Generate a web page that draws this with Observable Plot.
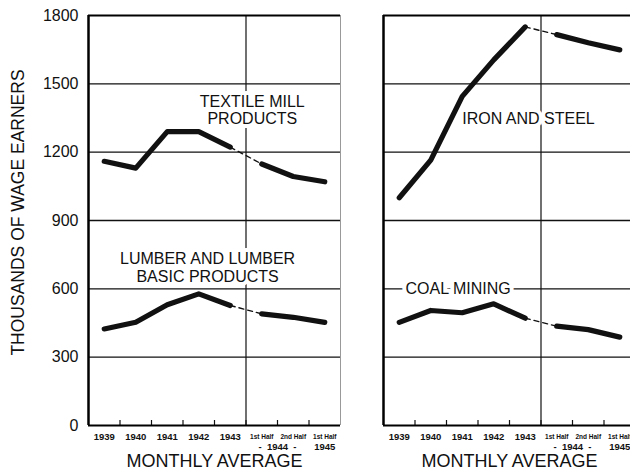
<!DOCTYPE html>
<html><head><meta charset="utf-8">
<script src="https://cdn.jsdelivr.net/npm/d3@7"></script>
<script src="https://cdn.jsdelivr.net/npm/@observablehq/plot@0.6"></script>
<style>
html,body{margin:0;padding:0;background:#fff;overflow:hidden;}
#chart{display:flex;width:630px;height:475px;overflow:hidden;}
#chart svg{flex:0 0 auto;}
</style></head><body><div id="chart"></div>
<script>
// ---- data ----
const periods = ["1939","1940","1941","1942","1943","1944 1st Half","1944 2nd Half","1945 1st Half"];
const tickLabels = ["1939","1940","1941","1942","1943","1st Half","2nd Half","1st Half"];
const tickYears = [null,null,null,null,null,"1944","1944","1945"];
const textile = [1160,1130,1290,1290,1222,1148,1093,1070];
const lumber  = [424,453,530,578,527,490,475,453];
const iron    = [1000,1165,1445,1605,1750,1716,1680,1649];
const coal    = [453,505,495,534,471,436,421,388];
const yTicks = [0,300,600,900,1200,1500,1800];
const yTitle = "THOUSANDS OF WAGE EARNERS";
const xTitle = "MONTHLY AVERAGE";

const FONT = "'Liberation Sans', Arial, Helvetica, sans-serif";
const INK = "#111";
const idx = periods.map((_, i) => i);
const xDomain = [-0.5, periods.length - 0.5];
const yDomain = [yTicks[0], yTicks[yTicks.length - 1]];
const breakAt = periods.indexOf("1944 1st Half");
const boundaries = idx.slice(0, -1).map(i => i + 0.5);
const yearIdx = idx.filter(i => tickYears[i] === null);
const halfIdx = idx.filter(i => tickYears[i] !== null);
const yearGroups = d3.rollups(halfIdx, v => ({x: d3.mean(v), n: v.length}), i => tickYears[i])
  .map(([year, g]) => ({x: g.x, text: g.n > 1 ? "-  " + year + "  -" : year}));

function seriesMarks(values) {
  const rows = values.map((v, i) => ({i, v}));
  const solid = {x: "i", y: "v", stroke: INK, strokeWidth: 5.2, strokeLinejoin: "round"};
  return [
    Plot.line(rows.slice(breakAt - 1, breakAt + 1), {x: "i", y: "v", stroke: INK, strokeWidth: 1.4, strokeDasharray: "5,4"}),
    Plot.line(rows.slice(0, breakAt), solid),
    Plot.line(rows.slice(breakAt), solid)
  ];
}

const halo = {fill: INK, stroke: "white", strokeWidth: 8, fontSize: 16, lineHeight: 1.1};
const axisText = {frameAnchor: "bottom", lineAnchor: "middle", textAnchor: "middle", fill: INK};

function panel({series, labels, yAxis, width, marginLeft, marginRight}) {
  const marks = [
    Plot.ruleY(yTicks.slice(1, -1), {stroke: INK, strokeWidth: 1.3}),
    Plot.ruleX([breakAt - 0.5], {stroke: INK, strokeWidth: 1.2}),
    Plot.ruleX(boundaries, {y1: yDomain[0], y2: 22, stroke: INK, strokeWidth: 1.2}),
    Plot.ruleX([xDomain[0]], {stroke: "#000", strokeWidth: 2.5}),
    Plot.ruleX([xDomain[1]], {stroke: yAxis ? "#999" : "#000", strokeWidth: yAxis ? 1 : 2.5}),
    Plot.ruleY(yDomain, {stroke: "#000", strokeWidth: 2.2}),
    ...labels,
    ...series.flatMap(seriesMarks),
    Plot.text(yearIdx, {x: d => d, text: i => tickLabels[i], dy: 11, fontSize: 9.5, fontWeight: "bold", ...axisText}),
    Plot.text(halfIdx, {x: d => d, text: i => tickLabels[i], dy: 11, fontSize: 6.5, fontWeight: "bold", ...axisText}),
    Plot.text(yearGroups, {x: "x", text: "text", dy: 21, fontSize: 9.5, fontWeight: "bold", ...axisText}),
    Plot.text([xTitle], {dy: 36, fontSize: 18, ...axisText})
  ];
  if (yAxis) {
    marks.push(Plot.text(yTicks, {y: d => d, text: d => String(d), frameAnchor: "left", dx: -10, textAnchor: "end", lineAnchor: "middle", fontSize: 16, fill: INK}));
    marks.push(Plot.text([yTitle], {frameAnchor: "left", rotate: -90, dx: -70, dy: -8, textAnchor: "middle", lineAnchor: "middle", fontSize: 17.5, fill: INK}));
  }
  return Plot.plot({
    width, height: 475,
    marginLeft, marginRight, marginTop: 15, marginBottom: 50,
    x: {domain: xDomain, axis: null},
    y: {domain: yDomain, axis: null},
    style: {fontFamily: FONT, background: "white", overflow: "visible"},
    marks
  });
}

const left = panel({
  series: [textile, lumber], yAxis: true, width: 362, marginLeft: 88, marginRight: 22,
  labels: [
    Plot.text(["TEXTILE MILL\nPRODUCTS"], {x: 4.7, y: 1385, ...halo}),
    Plot.text(["LUMBER AND LUMBER\nBASIC PRODUCTS"], {x: 3.28, y: 694, ...halo})
  ]
});
const right = panel({
  series: [iron, coal], yAxis: false, width: 280, marginLeft: 21, marginRight: 7,
  labels: [
    Plot.text(["IRON AND STEEL"], {x: 2.0, y: 1348, textAnchor: "start", ...halo}),
    Plot.text(["COAL MINING"], {x: 0.2, y: 600, textAnchor: "start", ...halo})
  ]
});
document.getElementById("chart").append(left, right);
</script></body></html>
